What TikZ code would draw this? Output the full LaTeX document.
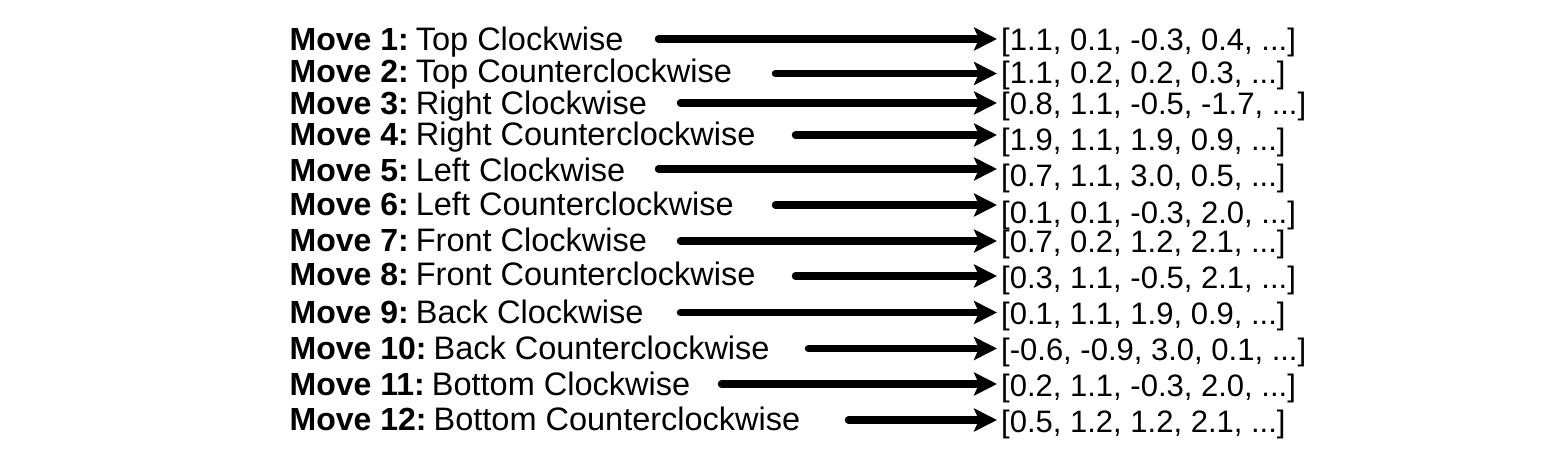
\documentclass[tikz,border=0pt]{standalone}
\usepackage{fontspec}
\setmainfont{Liberation Sans}
\usetikzlibrary{arrows.meta}
\newcommand{\mvlab}[2]{{\fontsize{32}{36}\selectfont\textbf{Move #1:}}\hspace{7pt}#2}
\begin{document}
\begin{tikzpicture}[x=1pt,y=-1pt,
  lbl/.style={anchor=base west, inner sep=0pt, font=\fontsize{32.5}{36}\selectfont},
  vec/.style={anchor=base west, inner sep=0pt, font=\fontsize{31}{36}\selectfont},
  arr/.style={line width=7.5pt, line cap=round, -{Stealth[length=23pt,width=23pt,inset=5pt]}, shorten >=4pt}]
\useasboundingbox (0,0) rectangle (1552,454);
% labels
\node[lbl] (m1)  at (289.5,51)  {\mvlab{1}{Top Clockwise}};
\node[lbl] (m2)  at (289.5,83)  {\mvlab{2}{Top Counterclockwise}};
\node[lbl] (m3)  at (289.5,115) {\mvlab{3}{Right Clockwise}};
\node[lbl] (m4)  at (289.5,146) {\mvlab{4}{Right Counterclockwise}};
\node[lbl] (m5)  at (289.5,182) {\mvlab{5}{Left Clockwise}};
\node[lbl] (m6)  at (289.5,216) {\mvlab{6}{Left Counterclockwise}};
\node[lbl] (m7)  at (289.5,252) {\mvlab{7}{Front Clockwise}};
\node[lbl] (m8)  at (289.5,286) {\mvlab{8}{Front Counterclockwise}};
\node[lbl] (m9)  at (289.5,323) {\mvlab{9}{Back Clockwise}};
\node[lbl] (m10) at (289.5,359) {\mvlab{10}{Back Counterclockwise}};
\node[lbl] (m11) at (289.5,395) {\mvlab{11}{Bottom Clockwise}};
\node[lbl] (m12) at (289.5,430) {\mvlab{12}{Bottom Counterclockwise}};
% vectors
\node[vec] (v1)  at (1001,51)  {[1.1, 0.1, -0.3, 0.4, ...]};
\node[vec] (v2)  at (1001,84)  {[1.1, 0.2, 0.2, 0.3, ...]};
\node[vec] (v3)  at (1001,115) {[0.8, 1.1, -0.5, -1.7, ...]};
\node[vec] (v4)  at (1001,151) {[1.9, 1.1, 1.9, 0.9, ...]};
\node[vec] (v5)  at (1001,187) {[0.7, 1.1, 3.0, 0.5, ...]};
\node[vec] (v6)  at (1001,224) {[0.1, 0.1, -0.3, 2.0, ...]};
\node[vec] (v7)  at (1001,253) {[0.7, 0.2, 1.2, 2.1, ...]};
\node[vec] (v8)  at (1001,288) {[0.3, 1.1, -0.5, 2.1, ...]};
\node[vec] (v9)  at (1001,324) {[0.1, 1.1, 1.9, 0.9, ...]};
\node[vec] (v10) at (1001,360) {[-0.6, -0.9, 3.0, 0.1, ...]};
\node[vec] (v11) at (1001,396) {[0.2, 1.1, -0.3, 2.0, ...]};
\node[vec] (v12) at (1001,432) {[0.5, 1.2, 1.2, 2.1, ...]};
% arrow starts
\coordinate (s1)  at (658.5,39);
\coordinate (s2)  at (775.5,73.5);
\coordinate (s3)  at (680.5,103);
\coordinate (s4)  at (795.5,135);
\coordinate (s5)  at (658.5,169);
\coordinate (s6)  at (775.5,205);
\coordinate (s7)  at (680.5,241);
\coordinate (s8)  at (795.5,276);
\coordinate (s9)  at (680.5,312.5);
\coordinate (s10) at (808.5,348.5);
\coordinate (s11) at (721.5,384);
\coordinate (s12) at (848.5,420);
\foreach \k in {1,...,12}
  \draw[arr] (s\k) -- (s\k -| v\k.west);
\end{tikzpicture}
\end{document}
